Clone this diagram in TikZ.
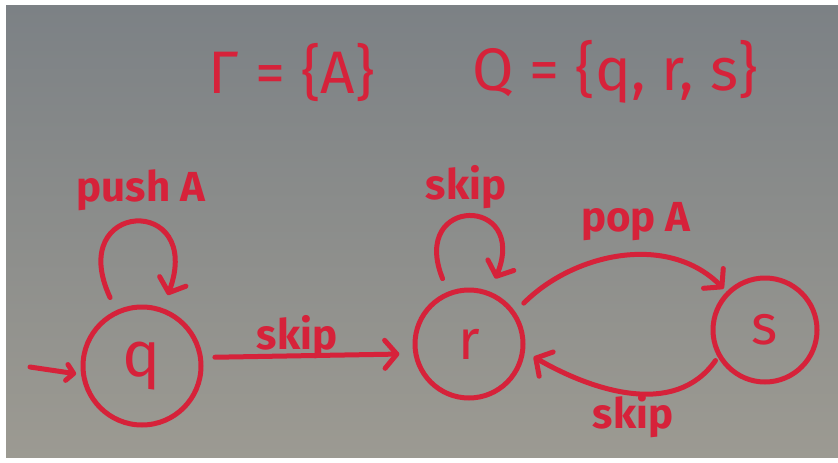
\documentclass[tikz,border=0pt]{standalone}
\usepackage{fontspec}
\setmainfont{Fira Sans}
\usepackage{tikz}
\usetikzlibrary{arrows.meta}
\definecolor{marker}{RGB}{214,34,58}
\definecolor{boardtop}{RGB}{124,129,133}
\definecolor{boardbot}{RGB}{156,154,146}

\begin{document}
\begin{tikzpicture}[x=1pt,y=-1pt,
loc/.style={draw=marker,circle,line width=5pt,inner sep=0pt,text=marker,
  font=\fontsize{56}{56}\selectfont},
lbl/.style={text=marker,inner sep=0pt,font=\fontsize{42}{42}\selectfont\bfseries},
title/.style={text=marker,inner sep=0pt,font=\fontsize{60}{60}\selectfont},
trans/.style={draw=marker,line width=5pt,line cap=round,
  -{Straight Barb[length=12pt,width=28pt,round]}}]
\useasboundingbox (0,0) rectangle (838,463);
\fill[white] (0,0) rectangle (838,463);
\shade[top color=boardtop,bottom color=boardbot] (6,5) rectangle (838,457);
\node[title] (gam) at (292,72) {Γ = \{A\}};
\node[title] (qset) at (615,72) {Q = \{q, r, s\}};
\node[loc,minimum size=118pt,font=\fontsize{64}{64}\selectfont] (q) at (142,366) {q};
\node[loc,minimum size=108pt] (r) at (469,344) {r};
\node[loc,minimum size=104pt] (s) at (765,330) {s};
\coordinate (init) at (30,367);
\draw[trans,-{Straight Barb[length=7pt,width=16pt,round]},shorten >=5pt] (init) -- (q.188);
\draw[trans,shorten <=14pt,shorten >=14pt] (q) to[out=115,in=70,min distance=122pt] (q);
\draw[trans,shorten <=14pt,shorten >=14pt] (r) to[out=112,in=68,min distance=104pt] (r);
\draw[trans,shorten <=12pt,shorten >=14pt] (q.8) -- (r.190);
\draw[trans,shorten <=12pt,shorten >=4pt] (r.35) to[out=45,in=135] (s.135);
\draw[trans,shorten <=4pt,shorten >=10pt] (s.210) to[out=235,in=-30] (r.352);
\node[lbl] (lpush) at (141,190) {push A};
\node[lbl] (lloop) at (466,187) {skip};
\node[lbl] (lqr) at (297,337) {skip};
\node[lbl] (lpop) at (636,222) {pop A};
\node[lbl] (lsr) at (633,416) {skip};
\end{tikzpicture}
\end{document}
